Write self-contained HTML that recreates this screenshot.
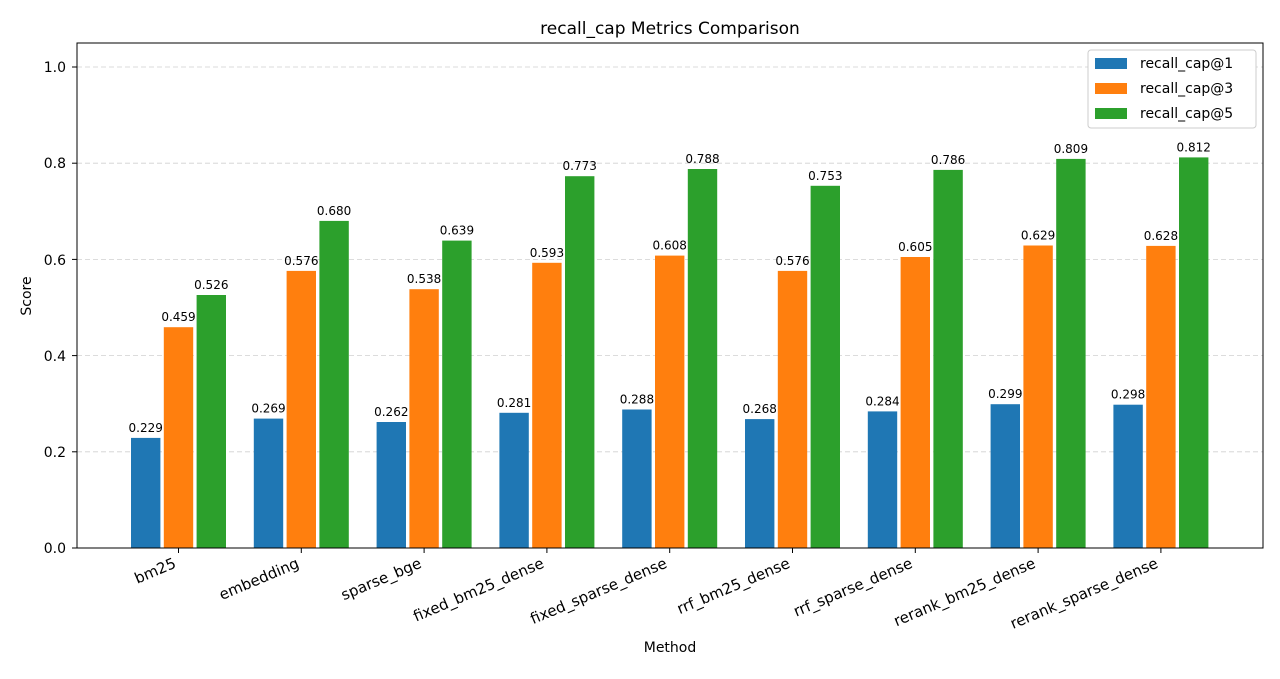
<!DOCTYPE html>
<html><head><meta charset="utf-8"><style>
body{margin:0;background:#fff}
text{font-family:"DejaVu Sans","Liberation Sans",sans-serif;fill:#000}
</style></head><body>
<svg width="1280" height="674" xmlns="http://www.w3.org/2000/svg">
<rect width="1280" height="674" fill="#fff"/>
<text x="670" y="34" font-size="17" text-anchor="middle">recall_cap Metrics Comparison</text>
<g stroke="#d0d0d0" stroke-dasharray="5,3" stroke-width="0.8">
<line x1="77" x2="1263" y1="451.8" y2="451.8"/>
<line x1="77" x2="1263" y1="355.6" y2="355.6"/>
<line x1="77" x2="1263" y1="259.4" y2="259.4"/>
<line x1="77" x2="1263" y1="163.2" y2="163.2"/>
<line x1="77" x2="1263" y1="67" y2="67"/>
</g>
<g font-size="14" text-anchor="end">
<text x="66" y="553">0.0</text><text x="66" y="457">0.2</text><text x="66" y="361">0.4</text>
<text x="66" y="265">0.6</text><text x="66" y="168">0.8</text><text x="66" y="72">1.0</text>
</g>
<g stroke="#000"><line x1="72" x2="77" y1="548" y2="548"/><line x1="72" x2="77" y1="451.8" y2="451.8"/><line x1="72" x2="77" y1="355.6" y2="355.6"/><line x1="72" x2="77" y1="259.4" y2="259.4"/><line x1="72" x2="77" y1="163.2" y2="163.2"/><line x1="72" x2="77" y1="67" y2="67"/></g>
<text x="31" y="296" font-size="14" text-anchor="middle" transform="rotate(-90 31 296)">Score</text>
<text x="670" y="652" font-size="14" text-anchor="middle">Method</text>

<g fill="#1f77b4">
<rect x="131.0" y="437.9" width="29.4" height="110.1"/>
<rect x="253.8" y="418.6" width="29.4" height="129.4"/>
<rect x="376.6" y="422.0" width="29.4" height="126.0"/>
<rect x="499.4" y="412.8" width="29.4" height="135.2"/>
<rect x="622.2" y="409.5" width="29.4" height="138.5"/>
<rect x="745.0" y="419.1" width="29.4" height="128.9"/>
<rect x="867.8" y="411.4" width="29.4" height="136.6"/>
<rect x="990.6" y="404.2" width="29.4" height="143.8"/>
<rect x="1113.4" y="404.7" width="29.4" height="143.3"/>
</g>
<g fill="#ff7f0e">
<rect x="163.8" y="327.2" width="29.4" height="220.8"/>
<rect x="286.6" y="270.9" width="29.4" height="277.1"/>
<rect x="409.4" y="289.2" width="29.4" height="258.8"/>
<rect x="532.2" y="262.8" width="29.4" height="285.2"/>
<rect x="655.0" y="255.6" width="29.4" height="292.4"/>
<rect x="777.8" y="270.9" width="29.4" height="277.1"/>
<rect x="900.6" y="257.0" width="29.4" height="291.0"/>
<rect x="1023.4" y="245.5" width="29.4" height="302.5"/>
<rect x="1146.2" y="245.9" width="29.4" height="302.1"/>
</g>
<g fill="#2ca02c">
<rect x="196.6" y="295.0" width="29.4" height="253.0"/>
<rect x="319.4" y="220.9" width="29.4" height="327.1"/>
<rect x="442.2" y="240.6" width="29.4" height="307.4"/>
<rect x="565.0" y="176.2" width="29.4" height="371.8"/>
<rect x="687.8" y="169.0" width="29.4" height="379.0"/>
<rect x="810.6" y="185.8" width="29.4" height="362.2"/>
<rect x="933.4" y="169.9" width="29.4" height="378.1"/>
<rect x="1056.2" y="158.9" width="29.4" height="389.1"/>
<rect x="1179.0" y="157.4" width="29.4" height="390.6"/>
</g>
<g font-size="12" text-anchor="middle">
<text x="145.7" y="431.9">0.229</text><text x="178.5" y="321.2">0.459</text><text x="211.3" y="289.0">0.526</text>
<text x="268.5" y="412.6">0.269</text><text x="301.3" y="264.9">0.576</text><text x="334.1" y="214.9">0.680</text>
<text x="391.3" y="416.0">0.262</text><text x="424.1" y="283.2">0.538</text><text x="456.9" y="234.6">0.639</text>
<text x="514.1" y="406.8">0.281</text><text x="546.9" y="256.8">0.593</text><text x="579.7" y="170.2">0.773</text>
<text x="636.9" y="403.5">0.288</text><text x="669.7" y="249.6">0.608</text><text x="702.5" y="163.0">0.788</text>
<text x="759.7" y="413.1">0.268</text><text x="792.5" y="264.9">0.576</text><text x="825.3" y="179.8">0.753</text>
<text x="882.5" y="405.4">0.284</text><text x="915.3" y="251.0">0.605</text><text x="948.1" y="163.9">0.786</text>
<text x="1005.3" y="398.2">0.299</text><text x="1038.1" y="239.5">0.629</text><text x="1070.9" y="152.9">0.809</text>
<text x="1128.1" y="398.7">0.298</text><text x="1160.9" y="239.9">0.628</text><text x="1193.7" y="151.4">0.812</text>
</g>
<g stroke="#000">
<line x1="178.5" x2="178.5" y1="548" y2="553"/><line x1="301.3" x2="301.3" y1="548" y2="553"/><line x1="424.1" x2="424.1" y1="548" y2="553"/>
<line x1="546.9" x2="546.9" y1="548" y2="553"/><line x1="669.7" x2="669.7" y1="548" y2="553"/><line x1="792.5" x2="792.5" y1="548" y2="553"/>
<line x1="915.3" x2="915.3" y1="548" y2="553"/><line x1="1038.1" x2="1038.1" y1="548" y2="553"/><line x1="1160.9" x2="1160.9" y1="548" y2="553"/>
</g>
<g font-size="15" text-anchor="end">
<text x="177" y="567" transform="rotate(-23 177 567)">bm25</text>
<text x="300" y="567" transform="rotate(-23 300 567)">embedding</text>
<text x="422.5" y="567" transform="rotate(-23 422.5 567)">sparse_bge</text>
<text x="545" y="567" transform="rotate(-23 545 567)">fixed_bm25_dense</text>
<text x="668" y="567" transform="rotate(-23 668 567)">fixed_sparse_dense</text>
<text x="791" y="567" transform="rotate(-23 791 567)">rrf_bm25_dense</text>
<text x="913.5" y="567" transform="rotate(-23 913.5 567)">rrf_sparse_dense</text>
<text x="1036.5" y="567" transform="rotate(-23 1036.5 567)">rerank_bm25_dense</text>
<text x="1159" y="567" transform="rotate(-23 1159 567)">rerank_sparse_dense</text>
</g>
<rect x="77" y="43" width="1186" height="505" fill="none" stroke="#000" stroke-width="1"/>
<g>
<rect x="1088" y="50" width="168" height="78" fill="#fff" stroke="#ccc" rx="3"/>
<rect x="1095" y="58" width="32" height="11" fill="#1f77b4"/><text x="1140" y="68" font-size="14">recall_cap@1</text>
<rect x="1095" y="83" width="32" height="11" fill="#ff7f0e"/><text x="1140" y="93" font-size="14">recall_cap@3</text>
<rect x="1095" y="108" width="32" height="11" fill="#2ca02c"/><text x="1140" y="118" font-size="14">recall_cap@5</text>
</g>
</svg>
</body></html>
